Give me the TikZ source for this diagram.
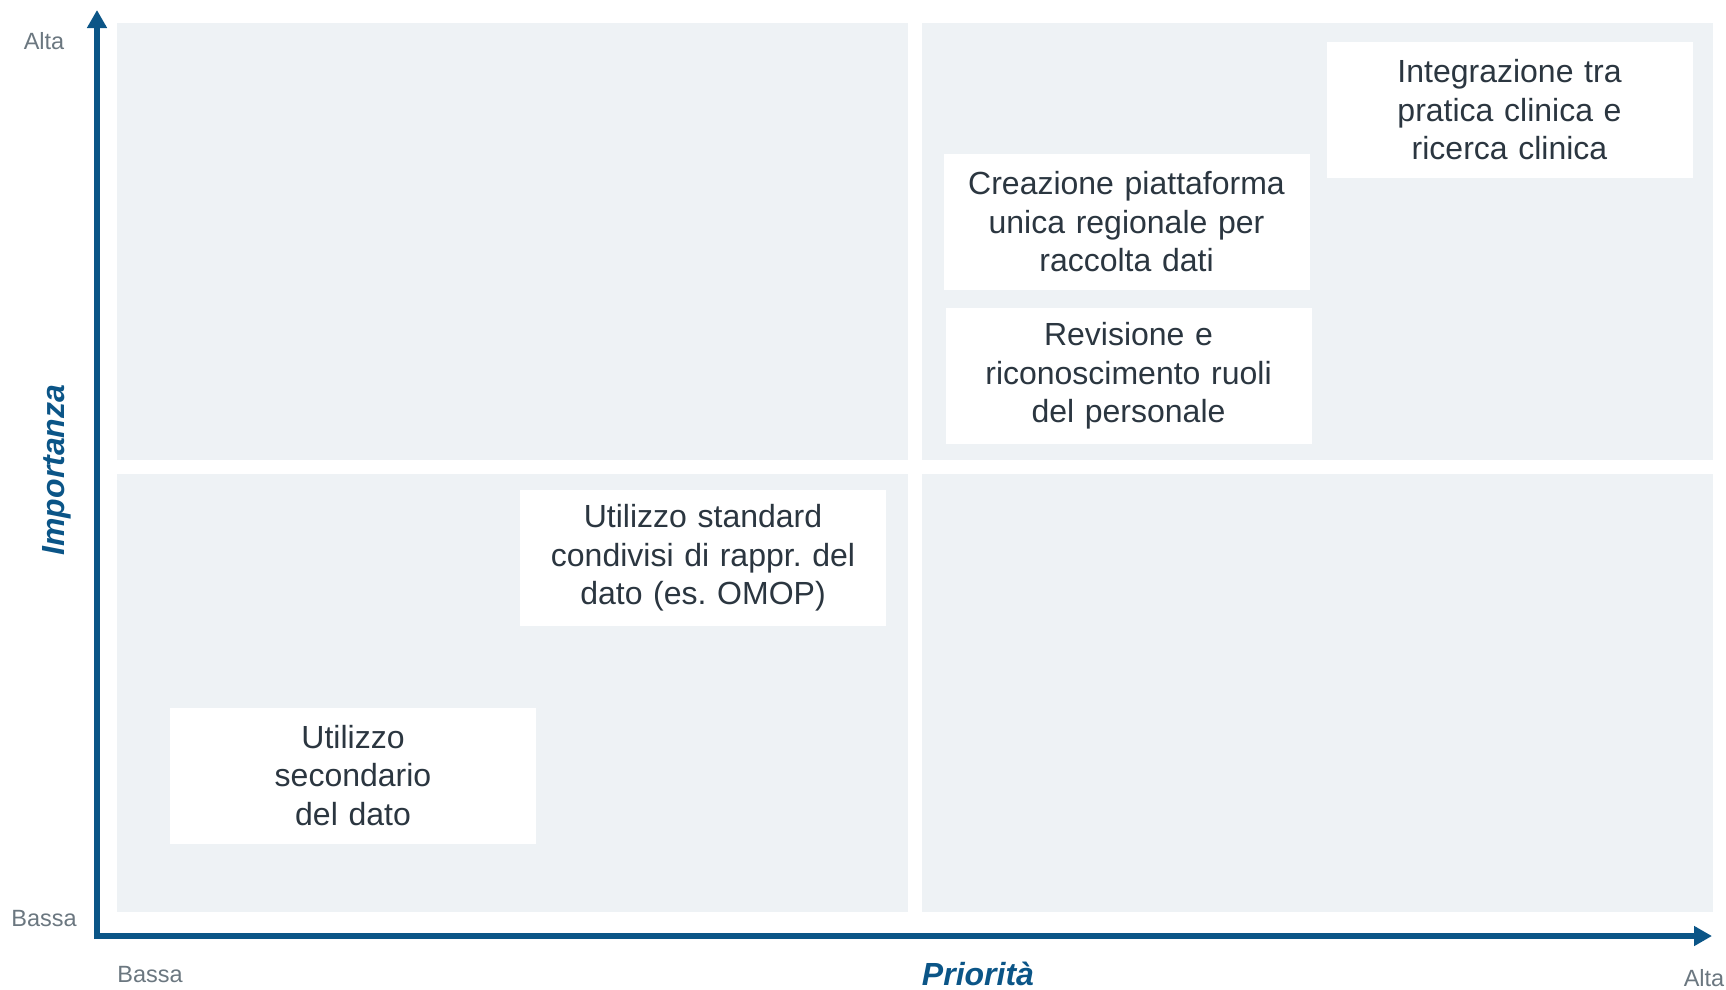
\documentclass[tikz,border=0pt]{standalone}
\usepackage{fontspec}
\setmainfont{Liberation Sans}
\usetikzlibrary{arrows.meta}
\usetikzlibrary{positioning}
\usepackage{xcolor}
\frenchspacing

\definecolor{panelgray}{HTML}{EEF2F5}
\definecolor{axisblue}{HTML}{0B5587}
\definecolor{boxtext}{HTML}{2B3640}
\definecolor{ticktext}{HTML}{6B7780}

\tikzset{
  itembox/.style={fill=white, text=boxtext, align=center, inner sep=0pt,
    minimum width=366pt, minimum height=136pt, text width=350pt,
    font=\fontsize{32}{38.5}\selectfont},
  ticklabel/.style={text=ticktext, font=\fontsize{23.5}{26}\selectfont},
  axislabel/.style={text=axisblue, font=\fontsize{32}{36}\selectfont\bfseries\itshape},
  axisline/.style={axisblue, line width=6pt, -{Triangle[length=18pt,width=19pt]}}
}

\begin{document}
\begin{tikzpicture}[x=1pt,y=-1pt]

\useasboundingbox (0,0) rectangle (1726,989);

% quadrants
\begin{scope}
\fill[panelgray] (117,23) rectangle (908,460);
\fill[panelgray] (922,23) rectangle (1713,460);
\fill[panelgray] (117,474) rectangle (908,912);
\fill[panelgray] (922,474) rectangle (1713,912);
\end{scope}

% axes
\coordinate (origin) at (97,936);
\coordinate (ytop) at (97,10);
\coordinate (xend) at (1712,936);
\coordinate (ystart) at (97,939);
\coordinate (xstart) at (94,936);

\draw[axisline] (ystart) -- (ytop);
\draw[axisline] (xstart) -- (xend);

\node[ticklabel] (ahigh) at (44,41) {Alta};
\node[ticklabel] (alow) at (44,919) {Bassa};
\node[ticklabel] (plow) at (150,975) {Bassa};
\node[ticklabel] (phigh) at (1704,978) {Alta};

\node[axislabel, anchor=base] (prio) at (978,985) {Priorità};
\node[axislabel, rotate=90] (imp) at (57,470) {Importanza};

% items
\node[itembox] (integr) at (1509.5,110) {Integrazione tra\\pratica clinica e\\ricerca clinica};
\node[itembox] (creaz) at (1126.5,222) {Creazione piattaforma\\unica regionale per\\raccolta dati};
\node[itembox] (revis) at (1128.5,376) {Revisione e\\riconoscimento ruoli\\del personale};
\node[itembox] (std) at (703,558) {Utilizzo standard\\condivisi di rappr. del\\dato (es. OMOP)};
\node[itembox] (second) at (353,775.5) {Utilizzo\\secondario\\del dato};

\end{tikzpicture}
\end{document}
